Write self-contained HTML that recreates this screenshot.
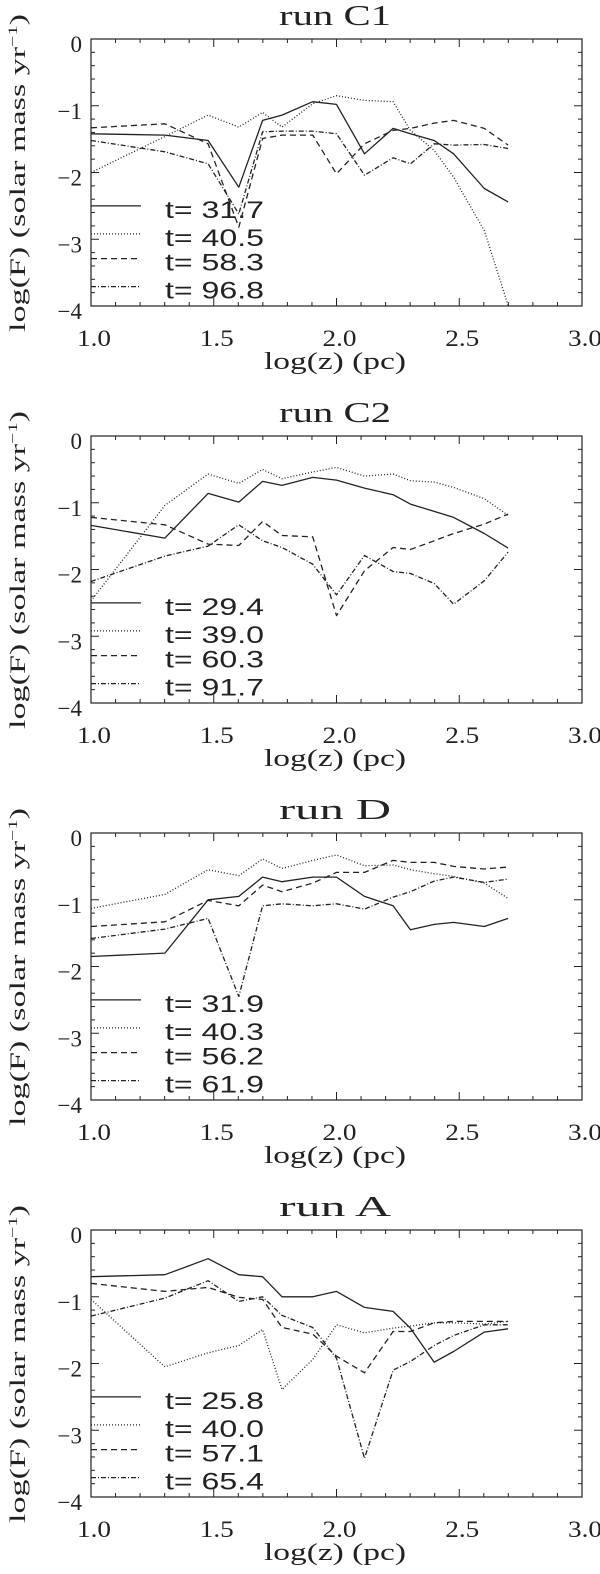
<!DOCTYPE html>
<html><head><meta charset="utf-8"><style>
html,body{margin:0;padding:0;background:#fff;}
svg{display:block;}
</style></head><body>
<svg id="chart" width="600" height="1574" viewBox="0 0 600 1574" xmlns="http://www.w3.org/2000/svg"></svg>
<script>
// shared x categories: z in pc (plotted as log10 z)
const zValues = [10,20,30,40,50,60,80,100,130,170,200,250,300,400,500];
const panelTitles = ["run C1","run C2","run D","run A"];
const xTicks = [1.0,1.5,2.0,2.5,3.0];
const xTickLabels = ["1.0","1.5","2.0","2.5","3.0"];
const yTicks = [0,-1,-2,-3,-4];
const yTickLabels = ["0","\u22121","\u22122","\u22123","\u22124"];

const c1Times = ["31.7","40.5","58.3","96.8"];
const c1Solid = [-1.42,-1.44,-1.52,-2.22,-1.22,-1.14,-0.94,-0.98,-1.72,-1.34,-1.42,-1.52,-1.72,-2.24,-2.44];
const c1Dotted = [-2.0,-1.46,-1.14,-1.32,-1.1,-1.32,-0.97,-0.85,-0.92,-0.94,-1.37,-1.67,-2.07,-2.87,-3.99];
const c1Dashed = [-1.33,-1.27,-1.57,-2.82,-1.49,-1.44,-1.44,-2.02,-1.57,-1.37,-1.34,-1.26,-1.22,-1.34,-1.59];
const c1DashDot = [-1.52,-1.69,-1.87,-2.62,-1.39,-1.38,-1.38,-1.42,-2.04,-1.78,-1.87,-1.57,-1.59,-1.58,-1.64];

const c2Times = ["29.4","39.0","60.3","91.7"];
const c2Solid = [-1.34,-1.53,-0.86,-0.99,-0.68,-0.74,-0.62,-0.66,-0.78,-0.88,-1.02,-1.13,-1.22,-1.46,-1.68];
const c2Dotted = [-2.47,-1.04,-0.57,-0.71,-0.5,-0.64,-0.54,-0.47,-0.6,-0.57,-0.67,-0.69,-0.77,-0.94,-1.19];
const c2Dashed = [-1.22,-1.33,-1.62,-1.64,-1.28,-1.49,-1.51,-2.69,-2.02,-1.67,-1.7,-1.57,-1.46,-1.32,-1.17];
const c2DashDot = [-2.18,-1.8,-1.65,-1.33,-1.57,-1.67,-1.92,-2.38,-1.79,-2.03,-2.06,-2.21,-2.52,-2.17,-1.74];

const dTimes = ["31.9","40.3","56.2","61.9"];
const dSolid = [-1.85,-1.8,-1.0,-0.95,-0.66,-0.73,-0.66,-0.66,-0.95,-1.09,-1.45,-1.37,-1.34,-1.4,-1.28];
const dDotted = [-1.13,-0.92,-0.55,-0.64,-0.39,-0.53,-0.41,-0.33,-0.49,-0.48,-0.55,-0.61,-0.65,-0.75,-0.98];
const dDashed = [-1.4,-1.33,-1.01,-1.09,-0.78,-0.88,-0.75,-0.59,-0.59,-0.41,-0.44,-0.44,-0.5,-0.54,-0.51];
const dDashDot = [-1.58,-1.44,-1.28,-2.45,-1.09,-1.06,-1.09,-1.06,-1.14,-0.96,-0.88,-0.72,-0.66,-0.74,-0.69];

const aTimes = ["25.8","40.0","57.1","65.4"];
const aSolid = [-0.7,-0.67,-0.43,-0.67,-0.7,-1.0,-1.0,-0.92,-1.16,-1.22,-1.47,-1.98,-1.82,-1.53,-1.48];
const aDotted = [-1.04,-2.05,-1.84,-1.73,-1.49,-2.39,-1.94,-1.42,-1.54,-1.47,-1.44,-1.39,-1.39,-1.41,-1.37];
const aDashed = [-0.8,-0.92,-0.86,-1.01,-1.04,-1.46,-1.56,-1.89,-2.14,-1.52,-1.52,-1.39,-1.37,-1.37,-1.37];
const aDashDot = [-1.29,-1.02,-0.76,-1.07,-1.0,-1.28,-1.46,-1.92,-3.42,-2.1,-1.97,-1.73,-1.58,-1.42,-1.42];

const panelSeries = [
  [c1Solid,c1Dotted,c1Dashed,c1DashDot],
  [c2Solid,c2Dotted,c2Dashed,c2DashDot],
  [dSolid,dDotted,dDashed,dDashDot],
  [aSolid,aDotted,aDashed,aDashDot]
];
const panelTimes = [c1Times,c2Times,dTimes,aTimes];
const legendY = [-2.5,-2.92,-3.29,-3.71];

const styleNames = ["solid","dotted","dashed","dash-dot"];
const dashes = ["", "1,2", "6,4", "5,2,1,2"];
const NS = "http://www.w3.org/2000/svg";
const svg = document.getElementById('chart');
const L = 91, R = 582, H = 267;
const panelTops = [39, 436, 833, 1230];
function xs(v){ return L + (v - 1.0) / 2.0 * (R - L); }
function ys(v, top){ return top + (0 - v) / 4 * H; }
function mk(tag, attrs, parent){
  const e = document.createElementNS(NS, tag);
  for (const k in attrs) e.setAttribute(k, attrs[k]);
  (parent || svg).appendChild(e);
  return e;
}
panelTitles.forEach((title, p) => {
  const T = panelTops[p], B = T + H;
  const g = mk('g', {});
  
  
  const t = mk('text', {x: 335, y: T - 14, 'text-anchor': 'middle', 'font-family': '"Liberation Serif", serif', 'font-size': 28, fill: '#222', textLength: 112, lengthAdjust: 'spacingAndGlyphs'}, g);
  t.textContent = title;
  
  
  const box = mk('rect', {x: L, y: T, width: R - L, height: H, fill: 'none', stroke: '#222', 'stroke-width': 1.2}, g);
  
  
  for (let i = 0; i <= 20; i++) {
    const v = 1 + i * 0.1, X = xs(v), len = (i % 5 === 0) ? 8 : 4;
    mk('line', {x1: X, y1: B, x2: X, y2: B - len, stroke: '#222', 'stroke-width': 1}, g);
    mk('line', {x1: X, y1: T, x2: X, y2: T + len, stroke: '#222', 'stroke-width': 1}, g);
  }
  for (let i = 0; i <= 20; i++) {
    const v = -i * 0.2, Y = ys(v, T), len = (i % 5 === 0) ? 8 : 4;
    mk('line', {x1: L, y1: Y, x2: L + len, y2: Y, stroke: '#222', 'stroke-width': 1}, g);
    mk('line', {x1: R, y1: Y, x2: R - len, y2: Y, stroke: '#222', 'stroke-width': 1}, g);
  }
  xTicks.forEach((v, i) => {
    const lb = mk('text', {x: xs(v) + 3, y: B + 40, 'text-anchor': 'middle', 'font-family': '"Liberation Serif", serif', 'font-size': 23, fill: '#222', textLength: 34, lengthAdjust: 'spacingAndGlyphs'}, g);
    lb.textContent = xTickLabels[i];
    
    
  });
  yTicks.forEach((v, i) => {
    const lb = mk('text', {x: 82, y: ys(v, T) + 13, 'text-anchor': 'end', 'font-family': '"Liberation Serif", serif', 'font-size': 23, fill: '#222'}, g);
    lb.textContent = yTickLabels[i];
    
    
  });
  const xt = mk('text', {x: 335, y: B + 63, 'text-anchor': 'middle', 'font-family': '"Liberation Serif", serif', 'font-size': 24, fill: '#222', textLength: 142, lengthAdjust: 'spacingAndGlyphs'}, g);
  xt.textContent = 'log(z) (pc)';
  
  
  const cy = T + 134;
  const yt = mk('text', {x: 0, y: 0, transform: 'translate(25,' + cy + ') rotate(-90)', 'text-anchor': 'middle', 'font-family': '"Liberation Serif", serif', 'font-size': 22, fill: '#222', textLength: 318, lengthAdjust: 'spacingAndGlyphs'}, g);
  yt.innerHTML = 'log(F)  (solar mass yr<tspan dy="-8" font-size="13">−1</tspan><tspan dy="8">)</tspan>';
  
  
  panelSeries[p].forEach((vals, s) => {
    const pts = vals.map((v, i) => xs(Math.log10(zValues[i])).toFixed(1) + ',' + ys(v, T).toFixed(1)).join(' ');
    const pl = mk('polyline', {points: pts, fill: 'none', stroke: '#222', 'stroke-width': 1.3, 'stroke-dasharray': dashes[s], 'stroke-linejoin': 'round'}, g);
    
    
    const ly = ys(legendY[s], T);
    const ll = mk('line', {x1: L, y1: ly, x2: 141, y2: ly, stroke: '#222', 'stroke-width': 1.3, 'stroke-dasharray': dashes[s]}, g);
    
    
    const lt = mk('text', {x: 165, y: ly + 12, 'font-family': '"Liberation Sans", sans-serif', 'font-size': 24, fill: '#222', 'xml:space': 'preserve', textLength: 99, lengthAdjust: 'spacingAndGlyphs'}, g);
    lt.textContent = 't=  ' + panelTimes[p][s];
    
    
  });
});
</script>
</body></html>
